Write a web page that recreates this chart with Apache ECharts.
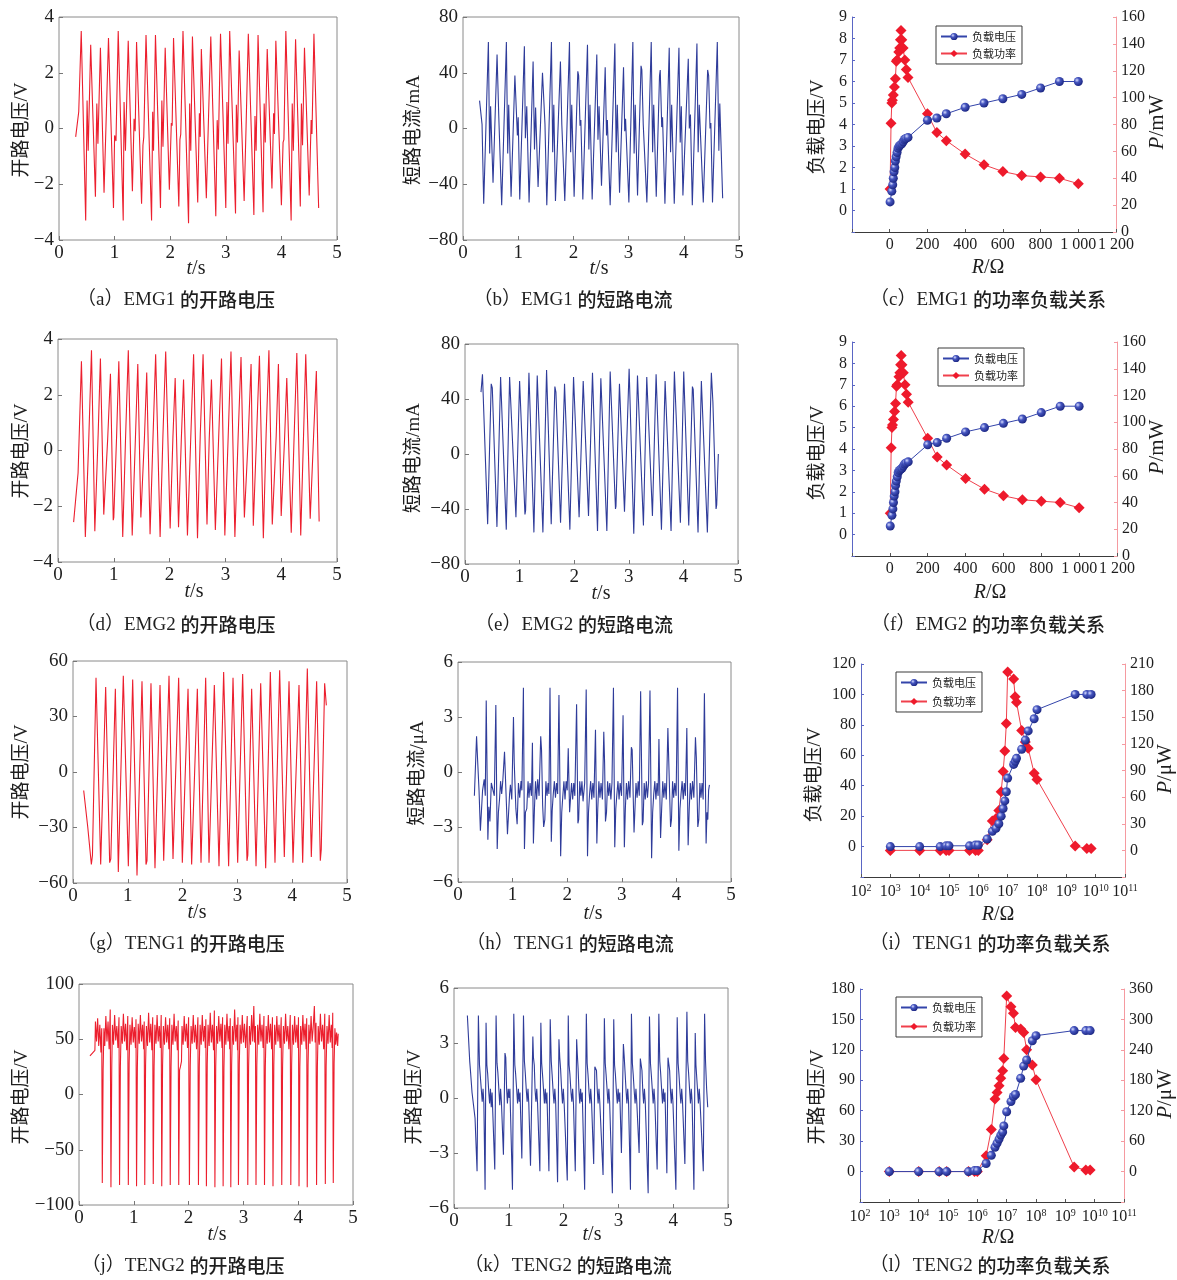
<!DOCTYPE html>
<html><head><meta charset="utf-8">
<script src="https://cdn.jsdelivr.net/npm/echarts@6/dist/echarts.min.js"></script>
<style>html,body{margin:0;padding:0;background:#fff}#c{width:1177px;height:1280px}</style>
</head><body><div id="c"></div>
<script>
// ---------------- DATA ----------------
const timeTicks = [0, 1, 2, 3, 4, 5];
const emgVoltTicks = [-4, -2, 0, 2, 4];
const emgCurrTicks = [-80, -40, 0, 40, 80];
const teng1VoltTicks = [-60, -30, 0, 30, 60];
const tengCurrTicks = [-6, -3, 0, 3, 6];
const teng2VoltTicks = [-100, -50, 0, 50, 100];
const emgRTicks = [-200, 0, 200, 400, 600, 800, 1000, 1200];
const emgLoadVTicks = [-1, 0, 1, 2, 3, 4, 5, 6, 7, 8, 9];
const emgPowerTicks = [0, 20, 40, 60, 80, 100, 120, 140, 160];
const teng1LoadVTicks = [-20, 0, 20, 40, 60, 80, 100, 120];
const teng1PowerTicks = [-30, 0, 30, 60, 90, 120, 150, 180, 210];
const teng2LoadVTicks = [-30, 0, 30, 60, 90, 120, 150, 180];
const teng2PowerTicks = [-60, 0, 60, 120, 180, 240, 300, 360];
const logRTicks = [1e2, 1e11];

// (a) EMG1 open-circuit voltage [t(s), V]
const emg1Voltage = [
[0.30,-0.3],[0.355,0.6],
[0.40,3.5],[0.48,-3.3],[0.505,1.0],[0.525,-0.8],
[0.57,3.0],[0.655,-2.45],[0.68,0.9],[0.70,-0.55],
[0.745,2.9],[0.81,-2.3],[0.845,0.1],[0.86,0.1],
[0.89,3.25],[0.98,-2.85],[1.0,-0.25],[1.025,-0.45],
[1.065,3.5],[1.155,-3.3],[1.17,0.95],[1.195,-0.8],
[1.245,3.15],[1.32,-2.25],[1.35,0.35],[1.37,-0.1],
[1.395,3.1],[1.485,-2.7],[1.51,-0.6],[1.525,-0.3],
[1.565,3.35],[1.665,-3.3],[1.685,0.6],[1.70,-0.8],
[1.735,3.35],[1.825,-2.85],[1.85,1.0],[1.87,-0.65],
[1.91,2.9],[1.985,-2.2],[2.02,0.2],[2.035,0.1],
[2.06,3.25],[2.155,-2.8],[2.175,-0.4],[2.19,-0.2],
[2.23,3.5],[2.33,-3.4],[2.35,0.9],[2.37,-0.8],
[2.40,3.3],[2.495,-2.65],[2.525,0.55],[2.54,-0.3],
[2.56,2.85],[2.65,-2.5],[2.685,0.1],[2.70,0.15],
[2.73,3.3],[2.82,-3.15],[2.845,0.3],[2.865,-0.75],
[2.905,3.4],[3.0,-2.85],[3.02,0.95],[3.04,-0.55],
[3.07,3.5],[3.175,-3.05],[3.19,0.85],[3.21,-0.5],
[3.24,2.8],[3.33,-2.6],[3.365,0.1],[3.38,0.05],
[3.405,3.4],[3.505,-3.1],[3.525,0.45],[3.545,-0.8],
[3.58,3.35],[3.67,-3.0],[3.69,0.9],[3.71,-0.5],
[3.745,2.85],[3.83,-2.15],[3.86,0.55],[3.875,-0.2],
[3.90,3.15],[4.0,-2.75],[4.03,-0.5],[4.045,-0.4],
[4.08,3.5],[4.175,-3.3],[4.195,0.9],[4.215,-0.8],
[4.255,3.2],[4.34,-2.8],[4.36,0.9],[4.38,-0.6],
[4.415,2.9],[4.50,-2.4],[4.535,0.3],[4.55,-0.2],
[4.585,3.4],[4.67,-2.85]
];

// (b) EMG1 short-circuit current [t(s), mA]
const emg1Current = [
[0.30,20],[0.345,3],[0.375,-54],
[0.46,62],[0.483,-18],[0.50,16],[0.544,-39],
[0.617,53],[0.647,10],[0.671,9],[0.701,-55],
[0.786,62],[0.81,-18],[0.828,17],[0.871,-49],
[0.94,38],[0.96,39],[0.985,-5],[1.0,8],[1.028,-51],
[1.112,59],[1.13,-7],[1.155,16],[1.197,-53],
[1.27,48],[1.295,-15],[1.315,15],[1.36,-42],
[1.44,40],[1.455,41],[1.485,3],[1.50,4],[1.518,-55],
[1.602,62],[1.625,-17],[1.645,17],[1.675,-52],
[1.765,48],[1.79,3],[1.805,4],[1.844,-52],
[1.929,62],[1.95,-17],[1.97,17],[2.013,-49],
[2.08,41],[2.095,38],[2.12,2],[2.135,6],[2.171,-51],
[2.255,60],[2.28,-15],[2.30,17],[2.34,-51],
[2.424,53],[2.445,-8],[2.465,16],[2.509,-41],
[2.576,44],[2.60,-5],[2.615,6],[2.666,-55],
[2.751,61],[2.775,-17],[2.795,17],[2.836,-46],
[2.908,44],[2.93,-2],[2.945,7],[3.005,-53],
[3.077,62],[3.10,-18],[3.12,17],[3.162,-48],
[3.225,45],[3.24,42],[3.265,3],[3.28,2],[3.331,-53],
[3.41,62],[3.435,-17],[3.455,17],[3.501,-49],
[3.56,38],[3.573,42],[3.60,1],[3.615,8],[3.658,-54],
[3.736,58],[3.76,-17],[3.78,17],[3.827,-54],
[3.912,58],[3.935,-10],[3.955,16],[3.984,-48],
[4.081,50],[4.10,0],[4.12,10],[4.154,-55],
[4.238,61],[4.26,-17],[4.28,17],[4.353,-53],
[4.432,42],[4.45,38],[4.475,0],[4.49,4],[4.52,-53],
[4.607,62],[4.635,-16],[4.652,18],[4.704,-50]
];

// (d) EMG2 open-circuit voltage [t(s), V]
const emg2Voltage = [
[0.28,-2.57],[0.36,-0.8],[0.42,3.2],[0.49,-3.1],[0.55,0.3],[0.60,3.6],[0.66,-2.9],[0.72,0.6],[0.76,3.3],
[0.82,-2.3],[0.84,-2.35],[0.89,0.4],[0.94,2.75],[0.99,-2.5],[1.0,-2.4],[1.05,0.5],[1.09,3.2],[1.16,-3.1],
[1.21,0.4],[1.26,3.6],[1.33,-3.05],[1.39,0.6],[1.43,3.1],[1.485,-2.4],[1.50,-2.4],[1.55,0.5],[1.59,2.8],
[1.65,-3.0],[1.70,0.3],[1.75,3.45],[1.83,-3.1],[1.88,0.5],[1.93,3.55],[2.01,-2.8],[2.06,0.5],[2.10,2.6],
[2.16,-2.75],[2.21,0.4],[2.25,2.55],[2.32,-3.05],[2.38,0.5],[2.43,3.45],[2.50,-3.15],[2.55,0.6],[2.60,3.45],
[2.67,-2.65],[2.71,0.4],[2.75,2.55],[2.82,-2.85],[2.88,0.5],[2.93,3.3],[2.99,-3.05],[3.05,0.5],[3.10,3.55],
[3.17,-3.1],[3.23,0.6],[3.28,3.35],[3.34,-2.4],[3.41,0.5],[3.46,3.1],[3.50,-2.7],[3.56,0.6],[3.61,3.4],
[3.68,-3.15],[3.73,0.6],[3.78,3.6],[3.84,-2.65],[3.91,0.5],[3.95,3.1],[4.00,-2.35],[4.02,-2.3],[4.06,0.4],
[4.10,2.6],[4.18,-2.95],[4.23,0.4],[4.28,3.5],[4.35,-3.05],[4.40,0.5],[4.44,3.45],[4.52,-2.45],[4.58,0.5],
[4.63,2.85],[4.68,-2.55]
];

// (e) EMG2 short-circuit current [t(s), mA]
const emg2Current = [
[0.293,45],[0.32,58],[0.415,-51],[0.48,51],[0.50,48],[0.585,-53],[0.652,56],[0.756,-55],[0.817,56],
[0.933,-46],[1.0,53],[1.098,-44],[1.11,-41],[1.171,59],[1.262,-57],[1.323,57],[1.427,-57],[1.494,61],
[1.579,-51],[1.646,49],[1.665,45],[1.75,-50],[1.823,51],[1.921,-55],[1.988,56],[2.09,-46],[2.165,53],
[2.262,-45],[2.335,59],[2.427,-56],[2.488,55],[2.598,-56],[2.659,60],[2.756,-40],[2.765,-38],[2.829,51],
[2.921,-42],[3.006,62],[3.091,-58],[3.159,57],[3.268,-52],[3.329,56],[3.433,-45],[3.5,58],[3.598,-55],
[3.665,53],[3.774,-56],[3.835,60],[3.945,-50],[4.006,60],[4.098,-52],[4.165,49],[4.18,47],[4.268,-57],
[4.329,53],[4.439,-57],[4.512,59],[4.54,38],[4.598,-40],[4.61,-37],[4.64,0]
];

// (g) TENG1 open-circuit voltage [t(s), V]
const teng1Voltage = [
[0.195,-10],[0.27,-30],[0.335,-50],[0.355,-45],[0.42,51],[0.505,-50],[0.52,-49],[0.596,46],[0.669,-49],
[0.69,-47],[0.773,45],[0.827,-54],[0.918,52],[1.01,-51],[1.089,50],[1.168,-56],[1.259,49],[1.332,-50],
[1.35,-48],[1.423,48],[1.496,-52],[1.588,47],[1.655,-48],[1.67,-47],[1.752,52],[1.825,-47],[1.928,51],
[1.995,-49],[2.099,45],[2.165,-50],[2.269,45],[2.336,-49],[2.421,51],[2.482,-49],[2.579,47],[2.664,-51],
[2.749,54],[2.84,-51],[2.92,51],[3.005,-49],[3.096,53],[3.175,-48],[3.19,-45],[3.26,45],[3.34,-51],
[3.425,48],[3.516,-52],[3.601,54],[3.686,-49],[3.771,55],[3.856,-46],[3.87,-45],[3.942,49],[4.015,-49],
[4.124,47],[4.191,-49],[4.276,56],[4.349,-46],[4.37,-45],[4.446,49],[4.513,-48],[4.53,-42],[4.592,48],
[4.623,36]
];

// (h) TENG1 short-circuit current [t(s), uA]
const teng1Current = [
[0.30,-1.3],[0.34,1.95],[0.36,0.6],[0.385,-1.0],[0.41,-3.2],[0.425,-3.1],[0.45,-1.0],[0.48,-0.4],[0.50,-1.3],
[0.517,3.9],[0.547,-3.7],[0.565,-1.9],[0.585,-2.7],[0.61,-0.6],[0.625,-0.7],[0.645,-0.5],[0.665,-1.3],
[0.693,3.65],[0.718,-4.2],[0.74,-2.2],[0.76,-1.5],[0.78,-0.5],[0.80,-1.2],[0.82,-0.5],
[0.852,1.1],[0.865,1.05],[0.89,-2.0],[0.906,-3.4],[0.925,-3.3],[0.945,-1.2],[0.96,-0.7],[0.985,-1.5],
[1.016,3.0],[1.03,0.5],[1.06,-2.0],[1.083,-2.85],[1.107,-0.6],[1.13,-1.4],[1.155,-0.5],[1.17,-1.0],
[1.198,4.6],[1.217,-4.2],[1.235,-2.2],[1.26,-2.0],[1.283,-0.5],[1.30,-1.4],[1.32,-0.6],[1.345,-1.3],
[1.363,1.6],[1.381,-3.9],[1.40,-2.0],[1.42,-0.5],[1.44,-1.5],[1.46,-0.4],[1.485,-1.3],
[1.515,1.95],[1.53,1.2],[1.55,-1.8],[1.569,-3.0],[1.59,-2.6],[1.61,-0.5],[1.63,-1.3],[1.65,-0.6],[1.665,-1.2],
[1.685,4.6],[1.709,-3.8],[1.725,-2.1],[1.745,-1.2],[1.765,-0.5],[1.785,-1.4],[1.805,-0.6],[1.825,-1.2],
[1.849,4.2],[1.88,-4.6],[1.90,-2.2],[1.92,-1.3],[1.94,-0.5],[1.96,-1.5],[1.98,-0.5],[2.0,-1.0],
[2.019,1.3],[2.03,1.2],[2.044,-2.2],[2.06,-2.3],[2.08,-0.6],[2.10,-1.5],[2.12,-0.6],[2.14,-1.3],
[2.172,3.7],[2.196,-2.8],[2.21,-2.6],[2.23,-0.5],[2.25,-1.3],[2.27,-0.5],[2.29,-1.6],[2.32,-0.6],
[2.348,4.5],[2.372,-4.6],[2.39,-2.2],[2.41,-1.2],[2.43,-0.5],[2.45,-1.5],[2.47,-0.6],[2.49,-1.4],
[2.518,2.3],[2.543,-3.9],[2.56,-2.0],[2.58,-0.5],[2.60,-1.4],[2.62,-0.6],[2.645,-1.5],
[2.67,2.2],[2.685,0.5],[2.701,-2.7],[2.72,-2.2],[2.74,-0.5],[2.76,-1.3],[2.78,-0.6],[2.80,-1.5],[2.82,-0.6],
[2.847,4.6],[2.871,-4.1],[2.89,-2.0],[2.91,-1.2],[2.93,-0.5],[2.95,-1.5],[2.97,-0.6],[2.995,-1.3],
[3.023,3.1],[3.047,-4.1],[3.065,-2.0],[3.085,-0.6],[3.105,-1.5],[3.125,-0.5],[3.15,-1.4],
[3.175,1.35],[3.19,1.2],[3.224,-3.3],[3.24,-3.2],[3.26,-0.6],[3.28,-1.4],[3.30,-0.5],[3.32,-1.3],
[3.345,4.4],[3.376,-2.9],[3.39,-2.7],[3.41,-0.6],[3.43,-1.5],[3.45,-0.5],[3.47,-1.4],[3.49,-0.6],
[3.516,4.45],[3.546,-4.7],[3.565,-2.2],[3.585,-1.2],[3.605,-0.5],[3.625,-1.5],[3.645,-0.6],[3.665,-1.3],
[3.68,1.8],[3.71,-3.6],[3.73,-2.0],[3.75,-0.5],[3.77,-1.4],[3.79,-0.6],[3.815,-1.5],
[3.844,2.4],[3.86,0.6],[3.893,-3.0],[3.91,-2.6],[3.93,-0.5],[3.95,-1.4],[3.97,-0.6],[3.995,-1.3],
[4.021,4.6],[4.045,-4.3],[4.065,-2.0],[4.085,-1.2],[4.105,-0.5],[4.125,-1.5],[4.145,-0.6],[4.165,-1.3],
[4.191,2.4],[4.215,-4.0],[4.235,-2.0],[4.255,-0.6],[4.275,-1.5],[4.295,-0.5],[4.32,-1.4],
[4.349,1.9],[4.365,0.8],[4.392,-3.0],[4.41,-2.6],[4.43,-0.6],[4.45,-1.4],[4.47,-0.6],[4.49,-1.5],
[4.513,4.3],[4.544,-3.9],[4.56,-2.2],[4.575,-2.6],[4.59,-1.0],[4.605,-0.7]
];

// (j) TENG2 open-circuit voltage [t(s), V]
const teng2Voltage = [
[0.20,35],[0.29,40],[0.30,66],[0.32,48],[0.34,69],[0.36,44],[0.38,63],[0.40,38],[0.415,60],
[0.425,-80],[0.44,22],[0.455,60],[0.47,44],[0.49,71],[0.51,48],[0.53,66],[0.55,41],[0.57,77],
[0.583,-84],[0.598,26],[0.61,63],[0.63,45],[0.65,72],[0.67,49],[0.69,62],[0.71,42],[0.73,70],
[0.74,-82],[0.755,25],[0.77,62],[0.79,46],[0.81,73],[0.83,48],[0.85,64],[0.87,40],[0.89,71],
[0.90,-82],[0.915,28],[0.93,63],[0.95,45],[0.97,70],[0.99,47],[1.01,61],[1.03,42],[1.04,68],
[1.05,-83],[1.065,24],[1.08,64],[1.10,46],[1.12,72],[1.14,48],[1.16,63],[1.18,41],[1.19,66],
[1.20,-82],[1.215,27],[1.23,62],[1.25,44],[1.27,74],[1.29,47],[1.31,64],[1.33,40],[1.345,70],
[1.355,-81],[1.37,25],[1.385,63],[1.405,46],[1.425,72],[1.445,48],[1.465,62],[1.485,42],[1.50,72],
[1.51,-83],[1.525,26],[1.54,62],[1.56,45],[1.58,70],[1.60,47],[1.62,63],[1.64,41],[1.655,69],
[1.665,-82],[1.68,25],[1.695,63],[1.715,45],[1.735,73],[1.755,48],[1.775,62],[1.795,40],[1.81,67],
[1.82,-82],[1.835,22],[1.85,25],[1.87,30],[1.88,62],[1.90,45],[1.92,71],[1.94,48],[1.96,64],[1.98,42],[2.00,70],
[2.015,-82],[2.03,26],[2.045,62],[2.065,46],[2.085,72],[2.105,47],[2.125,63],[2.145,41],[2.17,70],
[2.18,-82],[2.195,25],[2.21,63],[2.23,45],[2.25,72],[2.27,48],[2.29,62],[2.305,42],[2.315,68],
[2.325,-83],[2.34,27],[2.355,63],[2.375,44],[2.395,74],[2.415,47],[2.435,63],[2.455,40],[2.47,76],
[2.48,-84],[2.495,25],[2.51,62],[2.53,46],[2.55,71],[2.57,48],[2.59,64],[2.61,42],[2.62,70],
[2.63,-83],[2.645,24],[2.66,63],[2.68,45],[2.70,73],[2.72,48],[2.74,62],[2.75,41],[2.76,69],
[2.77,-84],[2.785,26],[2.80,62],[2.82,45],[2.84,77],[2.86,48],[2.88,63],[2.893,40],[2.90,70],
[2.91,-82],[2.925,27],[2.94,63],[2.96,46],[2.98,72],[3.00,47],[3.02,64],[3.04,42],[3.07,71],
[3.08,-82],[3.095,25],[3.11,62],[3.13,45],[3.15,72],[3.17,48],[3.19,80],[3.205,47],[3.22,62],
[3.23,-82],[3.245,26],[3.26,63],[3.28,45],[3.30,73],[3.32,48],[3.34,63],[3.36,42],[3.375,71],
[3.385,-82],[3.40,25],[3.415,62],[3.435,46],[3.455,72],[3.475,47],[3.495,64],[3.515,41],[3.53,70],
[3.54,-83],[3.555,26],[3.57,63],[3.59,45],[3.61,71],[3.63,48],[3.65,63],[3.67,42],[3.69,70],
[3.70,-82],[3.715,25],[3.73,62],[3.75,46],[3.77,73],[3.79,48],[3.81,62],[3.83,41],[3.855,72],
[3.865,-82],[3.88,26],[3.895,63],[3.915,45],[3.935,71],[3.955,47],[3.975,63],[3.995,42],[4.005,70],
[4.015,-83],[4.03,25],[4.045,62],[4.065,45],[4.085,72],[4.105,48],[4.125,64],[4.145,41],[4.155,69],
[4.165,-84],[4.18,27],[4.195,63],[4.215,46],[4.235,71],[4.255,48],[4.275,62],[4.295,80],[4.31,47],[4.325,65],
[4.335,-82],[4.35,25],[4.365,62],[4.385,45],[4.405,73],[4.425,48],[4.445,63],[4.465,41],[4.485,73],
[4.495,-81],[4.51,26],[4.525,62],[4.545,46],[4.565,72],[4.585,47],[4.605,63],[4.62,42],[4.63,74],
[4.64,-80],[4.655,28],[4.67,60],[4.685,45],[4.70,56],[4.72,44],[4.73,55]
];

// (k) TENG2 short-circuit current [t(s), value]
const teng2Current = [
[0.244,4.5],[0.287,2.0],[0.305,1.3],[0.329,0.3],[0.354,0.3],[0.384,-1.1],[0.402,-1.2],[0.421,-4.0],
[0.445,4.5],[0.465,1.8],[0.48,1.2],[0.50,0.4],[0.515,-0.2],[0.53,0.5],[0.545,-0.3],[0.567,-5.0],
[0.585,4.1],[0.60,1.8],[0.615,1.3],[0.635,0.3],[0.65,-0.3],[0.665,0.5],[0.68,-0.5],[0.695,0.3],[0.744,-3.9],
[0.768,4.5],[0.785,1.9],[0.80,1.4],[0.82,0.4],[0.835,-0.4],[0.85,0.5],[0.865,-0.2],[0.902,-3.1],
[0.93,2.45],[0.945,2.2],[0.96,0.5],[0.975,-0.3],[0.99,0.5],[1.005,0.0],[1.02,0.5],[1.067,-5.0],
[1.091,4.6],[1.11,1.8],[1.125,1.3],[1.145,0.4],[1.16,-0.3],[1.175,0.5],[1.19,-0.2],[1.205,0.3],[1.238,-3.3],
[1.268,4.5],[1.285,2.0],[1.30,1.4],[1.32,0.4],[1.335,-0.2],[1.35,0.5],[1.365,-0.3],[1.396,-3.7],
[1.439,3.35],[1.45,2.2],[1.465,1.8],[1.48,0.4],[1.495,-0.2],[1.51,0.5],[1.525,-0.3],[1.567,-4.0],
[1.585,4.1],[1.60,1.9],[1.615,1.3],[1.635,0.4],[1.65,-0.3],[1.665,0.5],[1.68,-0.3],[1.695,0.3],[1.732,-4.0],
[1.756,4.3],[1.775,2.0],[1.79,1.3],[1.81,0.3],[1.825,-0.3],[1.84,0.5],[1.855,-0.2],[1.89,-4.6],
[1.915,3.2],[1.93,2.2],[1.945,1.6],[1.965,0.4],[1.98,-0.3],[1.995,0.5],[2.01,-0.3],[2.067,-4.5],
[2.085,4.5],[2.10,1.8],[2.115,1.3],[2.135,0.3],[2.15,-0.2],[2.165,0.5],[2.18,-0.3],[2.213,-4.0],
[2.238,3.2],[2.25,2.4],[2.265,1.6],[2.28,0.4],[2.295,-0.3],[2.31,0.5],[2.325,-0.2],[2.34,0.3],[2.384,-5.0],
[2.415,4.6],[2.43,1.9],[2.445,1.3],[2.465,0.3],[2.48,-0.3],[2.495,0.5],[2.51,-0.2],[2.549,-3.6],
[2.57,1.7],[2.585,1.75],[2.60,1.5],[2.615,0.4],[2.63,-0.3],[2.645,0.5],[2.66,-0.2],[2.72,-4.2],
[2.744,4.35],[2.76,1.9],[2.775,1.3],[2.795,0.4],[2.81,-0.3],[2.825,0.5],[2.84,-0.2],[2.89,-5.2],
[2.915,4.3],[2.93,1.8],[2.945,1.3],[2.965,0.3],[2.98,-0.3],[2.995,0.5],[3.01,-0.2],[3.025,0.3],[3.055,-3.0],
[3.091,2.95],[3.105,2.3],[3.12,1.5],[3.14,0.4],[3.155,-0.3],[3.17,0.5],[3.185,-0.2],[3.22,-5.0],
[3.238,4.6],[3.255,1.9],[3.27,1.3],[3.29,0.3],[3.305,-0.3],[3.32,0.5],[3.335,-0.2],[3.378,-3.0],
[3.40,2.15],[3.415,2.1],[3.43,1.5],[3.445,0.4],[3.46,-0.3],[3.475,0.5],[3.49,-0.2],[3.543,-5.2],
[3.567,4.45],[3.585,1.9],[3.60,1.3],[3.62,0.4],[3.635,-0.3],[3.65,0.5],[3.665,-0.2],[3.707,-3.9],
[3.738,4.6],[3.755,2.0],[3.77,1.4],[3.79,0.4],[3.805,-0.3],[3.82,0.5],[3.835,-0.2],[3.85,0.3],[3.884,-4.1],
[3.905,2.2],[3.92,2.1],[3.935,1.5],[3.95,0.4],[3.965,-0.3],[3.98,0.5],[3.995,-0.2],[4.049,-5.0],
[4.073,4.4],[4.09,1.9],[4.105,1.3],[4.125,0.3],[4.14,-0.3],[4.155,0.5],[4.17,-0.2],[4.213,-3.6],
[4.25,4.7],[4.265,2.0],[4.28,1.4],[4.30,0.4],[4.315,-0.3],[4.33,0.5],[4.345,-0.2],[4.378,-5.0],
[4.402,3.55],[4.415,1.8],[4.43,1.9],[4.445,0.4],[4.46,-0.3],[4.475,0.5],[4.49,-0.2],[4.549,-4.0],
[4.573,4.6],[4.59,2.0],[4.61,0.5],[4.63,-0.5]
];

// (c) EMG1 load characteristics
const emg1VoltR = [2,11,16,19,23,27,30,34,39,44,50,57,64,71,78,85,97,200,250,300,400,500,600,700,800,900,1000];
const emg1LoadVolt = [0.4,0.9,1.2,1.5,1.8,2.0,2.3,2.5,2.7,2.9,3.0,3.05,3.1,3.2,3.3,3.35,3.4,4.2,4.3,4.5,4.8,5.0,5.2,5.4,5.7,6.0,6.0];
const emg1PowerR = [2,7,11,14,19,25,30,35,39,48,53,57,60,64,71,80,88,97,200,250,300,400,500,600,700,800,900,1000];
const emg1Power = [32,81,96,98,102,108,114,127,128,134,137,143,150,143,137,128,121,115,88,74,68,58,50,45,42,41,40,36];
// (f) EMG2 load characteristics
const emg2VoltR = [2,11,16,19,23,27,30,34,39,44,50,57,64,71,78,85,97,200,250,300,400,500,600,700,800,900,1000];
const emg2LoadVolt = [0.4,0.9,1.2,1.5,1.8,2.0,2.3,2.5,2.7,2.9,3.0,3.05,3.1,3.2,3.3,3.35,3.4,4.2,4.3,4.5,4.8,5.0,5.2,5.4,5.7,6.0,6.0];
const emg2PowerR = [2,7,11,14,19,25,30,35,39,48,53,57,60,64,71,80,88,97,200,250,300,400,500,600,700,800,900,1000];
const emg2Power = [32,81,96,98,102,108,114,127,128,134,137,143,150,143,137,128,121,115,88,74,68,58,50,45,42,41,40,36];
// (i) TENG1 load characteristics
const teng1R = [1e3,1e4,5e4,8e4,1e5,5e5,8e5,1e6,2e6,3e6,4e6,5e6,6e6,7e6,8e6,9e6,1e7,1.6e7,1.8e7,2e7,3e7,4e7,5e7,8e7,1e8,2e9,5e9,7e9];
const teng1LoadVolt = [0,0,0,0.5,0.5,0.5,1,1,5,10,12,15,20,25,30,36,45,54,56,58,64,70,76,84,90,100,100,100];
const teng1Power = [0,0,0,0,0,0,0,0,12,33,36,45,66,89,112,143,201,193,173,167,135,122,115,87,80,5,2,2];
// (l) TENG2 load characteristics
const teng2R = [1e3,1e4,5e4,9e4,5e5,8e5,1e6,2e6,3e6,4e6,4.7e6,5.5e6,6.3e6,7.3e6,8e6,1e7,1.4e7,1.7e7,2e7,3e7,3.8e7,4.8e7,7.5e7,1e8,2e9,5e9,7e9];
const teng2LoadVolt = [0,0,0,0,0,1,1,8,16,24,28,32,36,39,45,59,69,74,76,92,104,110,129,134,139,139,139];
const teng2Power = [0,0,0,0,0,0,0,31,83,143,156,169,184,199,223,346,325,312,284,281,274,240,210,181,9,3,3];

const seriesNames = ['负载电压', '负载功率'];

// ---------------- LAYOUT / STYLE ----------------
const SERIF = '"Liberation Serif", "Times New Roman", serif';
const MIX = '"Liberation Serif", "Noto Sans CJK SC", serif';
const CJK = '"Noto Sans CJK SC", sans-serif';
const RED = '#ec1f2e';
const BLUE = '#2f3c9a';
const TXT = '#1e1e1e';
const minus = v => String(v).replace('-', '\u2212');
const zip = (a, b) => a.map((x, i) => [x, b[i]]);

const option = {
  animation: false, backgroundColor: '#fff',
  grid: [], xAxis: [], yAxis: [], series: [], legend: [], graphic: []
};

function tickCfg(t) { return {min: t[0], max: t[t.length - 1], interval: t[1] - t[0]}; }

const timePanels = [
  {rect: [59, 17, 278, 223], yt: emgVoltTicks, data: emg1Voltage, color: RED},
  {rect: [463, 17, 276, 223], yt: emgCurrTicks, data: emg1Current, color: BLUE},
  {rect: [58, 339, 279, 223], yt: emgVoltTicks, data: emg2Voltage, color: RED},
  {rect: [465, 344, 273, 220], yt: emgCurrTicks, data: emg2Current, color: BLUE},
  {rect: [73, 661, 274, 222], yt: teng1VoltTicks, data: teng1Voltage, color: RED},
  {rect: [458, 662, 273, 220], yt: tengCurrTicks, data: teng1Current, color: BLUE},
  {rect: [79, 984, 274, 221], yt: teng2VoltTicks, data: teng2Voltage, color: RED},
  {rect: [454, 988, 274, 220], yt: tengCurrTicks, data: teng2Current, color: BLUE}
];

timePanels.forEach(p => {
  const gi = option.grid.length;
  option.grid.push({left: p.rect[0], top: p.rect[1], width: p.rect[2], height: p.rect[3],
    show: true, borderColor: '#8a8a8a', borderWidth: 1, containLabel: false, outerBoundsMode: 'none'});
  const xi = option.xAxis.length;
  option.xAxis.push(Object.assign({type: 'value', gridIndex: gi,
    axisLine: {show: false, onZero: false},
    axisTick: {show: true, inside: true, length: 4, lineStyle: {color: '#777'}},
    splitLine: {show: false},
    axisLabel: {fontFamily: SERIF, fontSize: 19, color: TXT, margin: 4}}, tickCfg(timeTicks)));
  const yi = option.yAxis.length;
  option.yAxis.push(Object.assign({type: 'value', gridIndex: gi,
    axisLine: {show: false, onZero: false},
    axisTick: {show: true, inside: true, length: 4, lineStyle: {color: '#777'}},
    splitLine: {show: false},
    axisLabel: {fontFamily: SERIF, fontSize: 19, color: TXT, margin: 5, formatter: minus}}, tickCfg(p.yt)));
  option.series.push({type: 'line', xAxisIndex: xi, yAxisIndex: yi, data: p.data,
    symbol: 'none', showSymbol: false, silent: true,
    lineStyle: {color: p.color, width: 1.1}, itemStyle: {color: p.color}});
});

const blueBall = {type: 'radial', x: 0.35, y: 0.35, r: 0.75,
  colorStops: [{offset: 0, color: '#d6dcff'}, {offset: 0.35, color: '#4656c0'}, {offset: 1, color: '#141e78'}]};

const supStr = e => '{b|10}{s|' + e + '}';

const dualPanels = [
  {rect: [852, 17, 264, 215], log: false, xt: emgRTicks, lt: emgLoadVTicks, rt: emgPowerTicks,
   v: zip(emg1VoltR, emg1LoadVolt), p: zip(emg1PowerR, emg1Power), legend: [936, 26], gap: 6},
  {rect: [852, 342, 265, 214], log: false, xt: emgRTicks, lt: emgLoadVTicks, rt: emgPowerTicks,
   v: zip(emg2VoltR, emg2LoadVolt), p: zip(emg2PowerR, emg2Power), legend: [938, 348], gap: 6},
  {rect: [861, 664, 264, 213], log: true, xt: logRTicks, lt: teng1LoadVTicks, rt: teng1PowerTicks,
   v: zip(teng1R, teng1LoadVolt), p: zip(teng1R, teng1Power), legend: [896, 672], gap: 8},
  {rect: [860, 989, 264, 213], log: true, xt: logRTicks, lt: teng2LoadVTicks, rt: teng2PowerTicks,
   v: zip(teng2R, teng2LoadVolt), p: zip(teng2R, teng2Power), legend: [896, 997], gap: 8}
];

dualPanels.forEach(p => {
  const gi = option.grid.length;
  option.grid.push({left: p.rect[0], top: p.rect[1], width: p.rect[2], height: p.rect[3],
    show: false, containLabel: false, outerBoundsMode: 'none'});
  const xi = option.xAxis.length;
  const lab = {fontFamily: SERIF, fontSize: 16, color: TXT, margin: 5};
  let xa;
  if (p.log) {
    xa = {type: 'log', logBase: 10, min: p.xt[0], max: p.xt[1], splitNumber: 9,
      axisLabel: Object.assign({}, lab, {margin: 6,
        formatter: v => supStr(Math.round(Math.log10(v))),
        rich: {b: {fontFamily: SERIF, fontSize: 16, color: TXT},
               s: {fontFamily: SERIF, fontSize: 10, color: TXT, padding: [0, 0, 8, 0]}}})};
  } else {
    xa = Object.assign({type: 'value',
      axisLabel: Object.assign({}, lab, {formatter: v => v < 0 ? '' : (v >= 1000 ? '1 ' + String(v).slice(1) : String(v))})},
      tickCfg(p.xt));
  }
  option.xAxis.push(Object.assign(xa, {gridIndex: gi,
    axisLine: {show: true, onZero: false, lineStyle: {color: '#3a3a3a', width: 1}},
    axisTick: {show: true, inside: true, length: 3, lineStyle: {color: '#555'}},
    minorTick: {show: false}, splitLine: {show: false}}));
  const yl = option.yAxis.length;
  option.yAxis.push(Object.assign({type: 'value', gridIndex: gi, position: 'left',
    axisLine: {show: true, onZero: false, lineStyle: {color: '#5a66c4', width: 1}},
    axisTick: {show: true, inside: true, length: 3, lineStyle: {color: '#5a66c4'}},
    splitLine: {show: false},
    axisLabel: Object.assign({}, lab, {formatter: v => v < 0 ? '' : String(v)})}, tickCfg(p.lt)));
  const yr = option.yAxis.length;
  option.yAxis.push(Object.assign({type: 'value', gridIndex: gi, position: 'right',
    axisLine: {show: true, onZero: false, lineStyle: {color: '#f59aa0', width: 1}},
    axisTick: {show: true, inside: true, length: 3, lineStyle: {color: '#f59aa0'}},
    splitLine: {show: false},
    axisLabel: Object.assign({}, lab, {formatter: v => v < 0 ? '' : String(v)})}, tickCfg(p.rt)));
  option.series.push({type: 'line', name: seriesNames[0], xAxisIndex: xi, yAxisIndex: yl, data: p.v,
    symbol: 'circle', symbolSize: 9, showAllSymbol: true,
    lineStyle: {color: '#3344aa', width: 1}, itemStyle: {color: blueBall, borderWidth: 0}, z: 3});
  option.series.push({type: 'line', name: seriesNames[1], xAxisIndex: xi, yAxisIndex: yr, data: p.p,
    symbol: 'diamond', symbolSize: 11, showAllSymbol: true,
    lineStyle: {color: '#f0404c', width: 1}, itemStyle: {color: '#ee1a2c', borderWidth: 0}, z: 2});
  option.legend.push({data: seriesNames, left: p.legend[0], top: p.legend[1], orient: 'vertical',
    itemWidth: 26, itemHeight: 9, itemGap: p.gap, padding: [5, 6, 5, 4],
    borderColor: '#3a3a3a', borderWidth: 1, borderRadius: 0, selectedMode: false,
    textStyle: {fontFamily: CJK, fontSize: 11, color: TXT}});
});

// ---------------- TEXT ----------------
const yTitles = [
  [22, 130, '开路电压/V'], [414, 130, '短路电流/mA'], [818, 127, '负载电压/V'],
  [22, 451, '开路电压/V'], [414, 458, '短路电流/mA'], [818, 453, '负载电压/V'],
  [22, 772, '开路电压/V'], [418, 773, '短路电流/μA'], [815, 775, '负载电压/V'],
  [22, 1097, '开路电压/V'], [415, 1097, '开路电压/V'], [818, 1097, '开路电压/V']
];
const rTitles = [[1157, 122, '/mW'], [1157, 447, '/mW'], [1165, 769, '/μW'], [1165, 1094, '/μW']];
const xTitles = [
  [196, 269, 't', '/s'], [599, 269, 't', '/s'], [988, 268, 'R', '/Ω'],
  [194, 592, 't', '/s'], [601, 594, 't', '/s'], [990, 593, 'R', '/Ω'],
  [197, 913, 't', '/s'], [593, 914, 't', '/s'], [998, 915, 'R', '/Ω'],
  [217, 1235, 't', '/s'], [592, 1235, 't', '/s'], [998, 1238, 'R', '/Ω']
];
const captions = [
  [176, 300, '（a）EMG1 ', '的开路电压'], [573, 300, '（b）EMG1 ', '的短路电流'], [988, 300, '（c）EMG1 ', '的功率负载关系'],
  [176, 625, '（d）EMG2 ', '的开路电压'], [574, 625, '（e）EMG2 ', '的短路电流'], [988, 625, '（f）EMG2 ', '的功率负载关系'],
  [181, 944, '（g）TENG1 ', '的开路电压'], [570, 944, '（h）TENG1 ', '的短路电流'], [990, 944, '（i）TENG1 ', '的功率负载关系'],
  [183, 1266, '（j）TENG2 ', '的开路电压'], [568, 1266, '（k）TENG2 ', '的短路电流'], [990, 1266, '（l）TENG2 ', '的功率负载关系']
];

yTitles.forEach(t => option.graphic.push({type: 'text', x: t[0], y: t[1], rotation: Math.PI / 2, z: 10,
  style: {text: t[2], fontFamily: MIX, fontSize: 19, fill: TXT, align: 'center', verticalAlign: 'middle'}}));
rTitles.forEach(t => option.graphic.push({type: 'text', x: t[0], y: t[1], rotation: Math.PI / 2, z: 10,
  style: {text: '{i|P}{n|' + t[2] + '}', fill: TXT, align: 'center', verticalAlign: 'middle',
    rich: {i: {fontFamily: SERIF, fontStyle: 'italic', fontSize: 21, fill: TXT},
           n: {fontFamily: SERIF, fontSize: 21, fill: TXT}}}}));
xTitles.forEach(t => option.graphic.push({type: 'text', x: t[0], y: t[1], z: 10,
  style: {text: '{i|' + t[2] + '}{n|' + t[3] + '}', fill: TXT, align: 'center', verticalAlign: 'middle',
    rich: {i: {fontFamily: SERIF, fontStyle: 'italic', fontSize: 20, fill: TXT},
           n: {fontFamily: SERIF, fontSize: 20, fill: TXT}}}}));
captions.forEach(t => option.graphic.push({type: 'text', x: t[0], y: t[1], z: 10,
  style: {text: '{n|' + t[2] + '}{c|' + t[3] + '}', fill: TXT, align: 'center', verticalAlign: 'middle',
    rich: {n: {fontFamily: MIX, fontSize: 19, fill: TXT},
           c: {fontFamily: CJK, fontSize: 19, fontWeight: 500, fill: TXT}}}}));

const chart = echarts.init(document.getElementById('c'), null, {renderer: 'canvas'});
chart.setOption(option);
</script>
</body></html>
